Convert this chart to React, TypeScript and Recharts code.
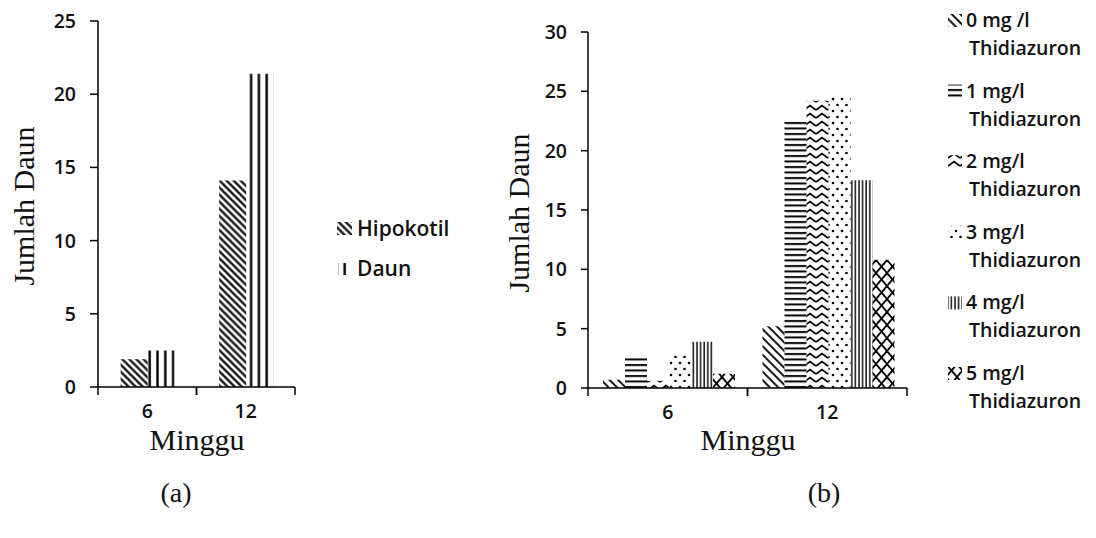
import React from "react";
import { BarChart, Bar, XAxis, YAxis } from "recharts";

// (a) explant source
const weeks = ["6", "12"];
const hipokotil = [1.9, 14.1];
const daun = [2.5, 21.4];
const ticksA = [0, 5, 10, 15, 20, 25];

// (b) thidiazuron concentration
const tdzNames = ["0 mg /l", "1 mg/l", "2 mg/l", "3 mg/l", "4 mg/l", "5 mg/l"];
const tdz0 = [0.7, 5.2];
const tdz1 = [2.7, 22.5];
const tdz2 = [0.6, 24.2];
const tdz3 = [2.8, 24.6];
const tdz4 = [3.9, 17.5];
const tdz5 = [1.2, 10.8];
const ticksB = [0, 5, 10, 15, 20, 25, 30];

const tdzSeries = [tdz0, tdz1, tdz2, tdz3, tdz4, tdz5];
const tdzFills = ["pDiag", "pHoriz", "pZig", "pDots", "pVertThin", "pLattice"];

const dataA = weeks.map((w, i) => ({ week: w, hipokotil: hipokotil[i], daun: daun[i] }));
const dataB = weeks.map((w, i) => {
  const row: Record<string, number | string> = { week: w };
  tdzSeries.forEach((s, k) => (row["t" + k] = s[i]));
  return row;
});

const sans = "'Open Sans', 'Liberation Sans', sans-serif";
const serif = "'Liberation Serif', 'DejaVu Serif', serif";
const tickFont = { fill: "#111", fontSize: 19.5, fontFamily: sans, fontWeight: 600 };
const axisStroke = { stroke: "#000", strokeWidth: 1.5 };

// x-axis ticks sit on category boundaries, label in the middle
const makeTick = (band: number) => (props: any) => {
  const { x, y, payload } = props;
  return (
    <g>
      <line x1={x - band / 2} x2={x - band / 2} y1={y} y2={y + 8} stroke="#000" strokeWidth={1.5} />
      <line x1={x + band / 2} x2={x + band / 2} y1={y} y2={y + 8} stroke="#000" strokeWidth={1.5} />
      <text x={x} y={y + 31} textAnchor="middle" style={tickFont}>
        {payload.value}
      </text>
    </g>
  );
};

function Patterns() {
  return (
    <svg width={0} height={0} style={{ position: "absolute" }}>
      <defs>
        <pattern id="pDiagA" width="5" height="5" patternUnits="userSpaceOnUse" patternTransform="rotate(-45)">
          <line x1="2.5" y1="0" x2="2.5" y2="5" stroke="#000" strokeWidth="2.2" />
        </pattern>
        <pattern id="pVertA" width="7.8" height="10" patternUnits="userSpaceOnUse">
          <line x1="1.5" y1="0" x2="1.5" y2="10" stroke="#000" strokeWidth="2.4" />
        </pattern>
        <pattern id="pDiag" width="6" height="6" patternUnits="userSpaceOnUse" patternTransform="rotate(-45)">
          <line x1="3" y1="0" x2="3" y2="6" stroke="#000" strokeWidth="1.8" />
        </pattern>
        <pattern id="pHoriz" width="10" height="5.5" patternUnits="userSpaceOnUse">
          <line x1="0" y1="2" x2="10" y2="2" stroke="#000" strokeWidth="2" />
        </pattern>
        <pattern id="pZig" width="12" height="8" patternUnits="userSpaceOnUse">
          <polyline points="0,6 6,1.5 12,6" fill="none" stroke="#000" strokeWidth="1.8" />
        </pattern>
        <pattern id="pDots" width="9" height="12" patternUnits="userSpaceOnUse">
          <circle cx="2" cy="3" r="1.3" fill="#000" />
          <circle cx="6.5" cy="9" r="1.3" fill="#000" />
        </pattern>
        <pattern id="pVertThin" width="3.6" height="10" patternUnits="userSpaceOnUse">
          <line x1="1" y1="0" x2="1" y2="10" stroke="#000" strokeWidth="1.4" />
        </pattern>
        <pattern id="pLattice" width="11" height="13" patternUnits="userSpaceOnUse">
          <line x1="0" y1="0" x2="11" y2="13" stroke="#000" strokeWidth="1.8" />
          <line x1="11" y1="0" x2="0" y2="13" stroke="#000" strokeWidth="1.8" />
        </pattern>
      </defs>
    </svg>
  );
}

function Overlay() {
  const rowGap = 70.6;
  const legendB = { fontFamily: sans, fontSize: 19.5, fontWeight: 600, fill: "#111" };
  const legendA = { fontFamily: sans, fontSize: 21, fontWeight: 600, fill: "#111" };
  return (
    <svg width={1096} height={538} style={{ position: "absolute", left: 0, top: 0, pointerEvents: "none" }}>
      {/* axis titles */}
      <text x={23} y={206} transform="rotate(-90, 23, 206)" textAnchor="middle" dominantBaseline="central"
        style={{ fontFamily: serif, fontSize: 30, fill: "#111" }}>Jumlah Daun</text>
      <text x={518} y={213} transform="rotate(-90, 518, 213)" textAnchor="middle" dominantBaseline="central"
        style={{ fontFamily: serif, fontSize: 30, fill: "#111" }}>Jumlah Daun</text>
      <text x={197} y={450} textAnchor="middle" style={{ fontFamily: serif, fontSize: 30, fill: "#111" }}>Minggu</text>
      <text x={748} y={450} textAnchor="middle" style={{ fontFamily: serif, fontSize: 30, fill: "#111" }}>Minggu</text>
      <text x={176} y={502} textAnchor="middle" style={{ fontFamily: serif, fontSize: 28, fill: "#111" }}>(a)</text>
      <text x={824} y={502} textAnchor="middle" style={{ fontFamily: serif, fontSize: 28, fill: "#111" }}>(b)</text>

      {/* legend (a) */}
      <rect x={337} y={222} width={15} height={13} fill="url(#pDiagA)" />
      <text x={357} y={236} style={legendA}>Hipokotil</text>
      <rect x={338} y={263} width={11} height={12} fill="url(#pVertA)" />
      <text x={357} y={276} style={legendA}>Daun</text>

      {/* legend (b) */}
      {tdzNames.map((name, k) => {
        const base = 27 + rowGap * k;
        return (
          <g key={name}>
            <rect x={948} y={base - 13} width={14} height={13} fill={`url(#${tdzFills[k]})`} />
            <text x={966} y={base} style={legendB}>{name}</text>
            <text x={969} y={base + 28} style={legendB}>Thidiazuron</text>
          </g>
        );
      })}
    </svg>
  );
}

export default function App() {
  return (
    <div style={{ position: "absolute", left: 0, top: 0, width: 1096, height: 538, background: "#fff", overflow: "hidden" }}>
      <Patterns />
      <div style={{ position: "absolute", left: 0, top: 0 }}>
        <BarChart width={320} height={450} data={dataA} margin={{ top: 21, right: 25, left: 0, bottom: 0 }}
          barCategoryGap="23%" barGap={0}>
          <XAxis dataKey="week" height={63} interval={0} axisLine={axisStroke} tickLine={false}
            tickSize={0} tickMargin={0} tick={makeTick(98.5)} />
          <YAxis width={98} domain={[0, 25]} ticks={ticksA} interval={0} axisLine={axisStroke}
            tickLine={axisStroke} tickSize={8} tickMargin={14} tick={tickFont} />
          <Bar dataKey="hipokotil" fill="url(#pDiagA)" isAnimationActive={false} />
          <Bar dataKey="daun" fill="url(#pVertA)" isAnimationActive={false} />
        </BarChart>
      </div>
      <div style={{ position: "absolute", left: 480, top: 0 }}>
        <BarChart width={440} height={450} data={dataB} margin={{ top: 32, right: 13, left: 0, bottom: 0 }}
          barCategoryGap="9.4%" barGap={0}>
          <XAxis dataKey="week" height={62} interval={0} axisLine={axisStroke} tickLine={false}
            tickSize={0} tickMargin={0} tick={makeTick(159.5)} />
          <YAxis width={108} domain={[0, 30]} ticks={ticksB} interval={0} axisLine={axisStroke}
            tickLine={axisStroke} tickSize={7} tickMargin={14} tick={tickFont} />
          {tdzSeries.map((_, k) => (
            <Bar key={k} dataKey={"t" + k} name={tdzNames[k]} fill={`url(#${tdzFills[k]})`} isAnimationActive={false} />
          ))}
        </BarChart>
      </div>
      <Overlay />
    </div>
  );
}
